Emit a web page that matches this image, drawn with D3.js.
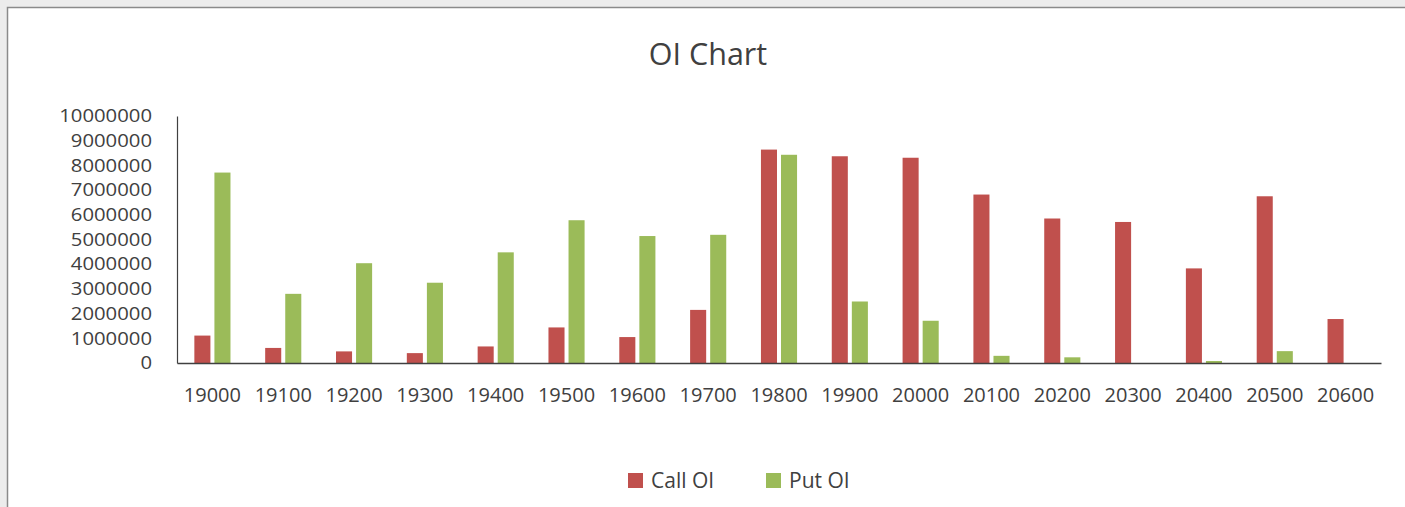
<!DOCTYPE html>
<html>
<head>
<meta charset="utf-8">
<script src="https://d3js.org/d3.v7.min.js"></script>
<style>
  body { margin: 0; background: #ececec; }
  svg { display: block; }
  text { font-family: "Open Sans", sans-serif; fill: #404040; }
</style>
</head>
<body>
<svg width="1405" height="507"></svg>
<script>
// strikes on the x axis
var strikes = ["19000","19100","19200","19300","19400","19500","19600","19700","19800",
               "19900","20000","20100","20200","20300","20400","20500","20600"];
// open interest per strike
var callOI = [1110000, 610000, 470000, 400000, 670000, 1440000, 1050000, 2150000, 8640000,
              8370000, 8310000, 6820000, 5850000, 5710000, 3830000, 6750000, 1780000];
var putOI  = [7710000, 2800000, 4040000, 3250000, 4480000, 5780000, 5140000, 5190000, 8430000,
              2490000, 1710000, 290000, 230000, 0, 80000, 480000, 0];
var seriesNames = ["Call OI", "Put OI"];
var yTicks = [0,1000000,2000000,3000000,4000000,5000000,6000000,7000000,8000000,9000000,10000000];
var colors = ["#c0504d", "#9bbb59"];

var svg = d3.select("svg");

// chart panel
svg.append("rect")
  .attr("x", 7.5).attr("y", 7.5)
  .attr("width", 1420).attr("height", 520)
  .attr("fill", "#fff")
  .attr("stroke", "#8a8a8a")
  .attr("stroke-width", 1.5);

var plotLeft = 177, plotRight = 1381, plotTop = 116, plotBottom = 363;

var x0 = d3.scaleBand().domain(strikes).range([plotLeft, plotRight])
  .paddingInner(0.49).paddingOuter(0.245);
var x1 = d3.scaleBand().domain(seriesNames).range([0, x0.bandwidth()]).paddingInner(0.2);
var y = d3.scaleLinear().domain([0, 10000000]).range([plotBottom, plotTop]);

var rows = strikes.map(function(s, i) {
  return {strike: s, values: [callOI[i], putOI[i]]};
});

svg.append("g").selectAll("g").data(rows).enter().append("g")
  .attr("transform", function(d) { return "translate(" + x0(d.strike) + ",0)"; })
  .selectAll("rect").data(function(d) { return d.values; }).enter().append("rect")
    .attr("x", function(d, i) { return x1(seriesNames[i]); })
    .attr("width", x1.bandwidth())
    .attr("y", function(d) { return y(d); })
    .attr("height", function(d) { return plotBottom - y(d); })
    .attr("fill", function(d, i) { return colors[i]; });

// y axis
var yAxis = svg.append("g")
  .attr("transform", "translate(" + plotLeft + ",0)")
  .call(d3.axisLeft(y).tickValues(yTicks).tickSize(0).tickPadding(25).tickFormat(d3.format("d")));
yAxis.select(".domain").attr("stroke", "#404040").attr("stroke-width", 1.2);
yAxis.selectAll("text")
  .style("font-size", "18px").style("font-family", "Open Sans").attr("fill", "#404040")
  .attr("textLength", function() { return this.textContent.length * 11.6; })
  .attr("lengthAdjust", "spacingAndGlyphs");

// x axis
var xAxis = svg.append("g")
  .attr("transform", "translate(0," + plotBottom + ")")
  .call(d3.axisBottom(x0).tickSize(0).tickPadding(25).tickSizeOuter(0));
xAxis.select(".domain").attr("stroke", "#404040").attr("stroke-width", 1.5);
xAxis.selectAll("text").style("font-size", "20px").style("font-family", "Open Sans").attr("fill", "#404040");

// title
svg.append("text")
  .attr("x", 708).attr("y", 65)
  .attr("text-anchor", "middle")
  .style("font-size", "30.5px")
  .text("OI Chart");

// legend
var legendX = [628, 766];
var legend = svg.append("g").selectAll("g").data(seriesNames).enter().append("g")
  .attr("transform", function(d, i) { return "translate(" + legendX[i] + ",473)"; });
legend.append("rect").attr("width", 15).attr("height", 15)
  .attr("fill", function(d, i) { return colors[i]; });
legend.append("text").attr("x", 23).attr("y", 15)
  .style("font-size", "21px")
  .text(function(d) { return d; });
</script>
</body>
</html>
